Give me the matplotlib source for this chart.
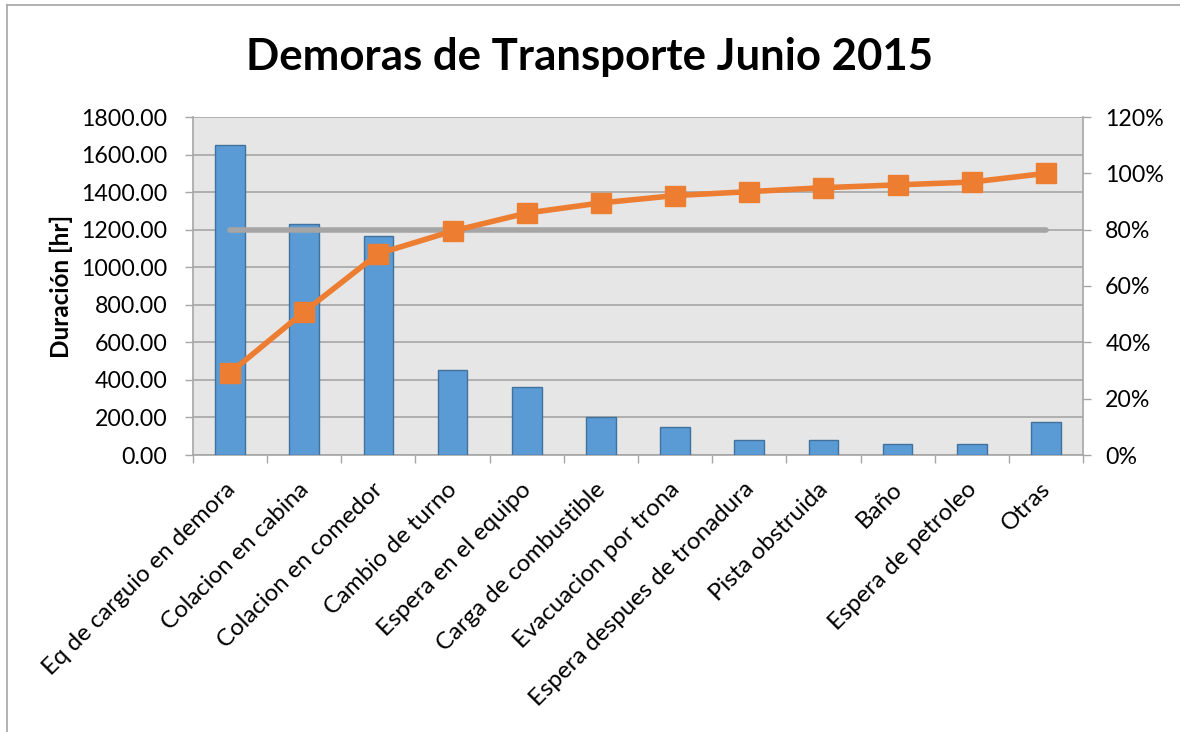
import matplotlib
matplotlib.use("Agg")
import matplotlib.pyplot as plt
from matplotlib.lines import Line2D
from matplotlib.transforms import ScaledTranslation
import numpy as np

categories = ["Eq de carguio en demora", "Colacion en cabina", "Colacion en comedor",
              "Cambio de turno", "Espera en el equipo", "Carga de combustible",
              "Evacuacion por trona", "Espera despues de tronadura", "Pista obstruida",
              "Baño", "Espera de petroleo", "Otras"]
duracion = [1650, 1228, 1165, 455, 360, 205, 148, 80, 78, 57, 57, 175]
acumulado = [29.2, 50.9, 71.5, 79.5, 85.9, 89.5, 92.1, 93.5, 94.9, 95.9, 96.9, 100.0]
meta = [80] * len(categories)
left_ticks = [0, 200, 400, 600, 800, 1000, 1200, 1400, 1600, 1800]
right_ticks = [0, 20, 40, 60, 80, 100, 120]

FONT = "Lato"
plt.rcParams['font.family'] = [FONT, 'DejaVu Sans']

fig = plt.figure(figsize=(11.8, 7.32), dpi=100)
W, H = 1180, 732
ax = fig.add_axes([193 / W, 1 - 455 / H, (1083 - 193) / W, (455 - 117) / H])
ax.set_facecolor("#E6E6E6")

x = np.arange(len(categories))
ax.bar(x, duracion, width=0.40, color="#5B9BD5", edgecolor="#41719C", linewidth=1, zorder=3)
ax.set_xlim(-0.5, len(categories) - 0.5)
ax.set_ylim(0, 1800)
ax.set_yticks(left_ticks)
ax.set_yticklabels([f"{v:.2f}" for v in left_ticks])
ax.grid(axis="y", color="#A6A6A6", linewidth=1.2, zorder=0)
ax.set_axisbelow(True)

ax.set_xticks(x)
ax.set_xticklabels(categories, rotation=45, ha="right", va="top", rotation_mode="anchor")
ax.set_xticks(np.arange(-0.5, len(categories)), minor=True)
ax.tick_params(axis="x", which="major", length=0, labelsize=17.3, pad=17)
ax.tick_params(axis="x", which="minor", length=6, color="#A6A6A6", width=1)
ax.tick_params(axis="y", length=6, color="#A6A6A6", width=1, labelsize=16.7, pad=12.5)
offset = ScaledTranslation(-6 / 100, 0, fig.dpi_scale_trans)
for lab in ax.get_xticklabels():
    lab.set_transform(lab.get_transform() + offset)
for s in ax.spines.values():
    s.set_color("#A6A6A6")
    s.set_linewidth(1.2)
ax.spines["top"].set_visible(False)
ax.spines["right"].set_visible(False)
ax.set_ylabel("Duración [hr]", fontsize=17.5, fontweight="bold", labelpad=6)

ax2 = ax.twinx()
ax2.set_ylim(0, 120)
ax2.set_yticks(right_ticks)
ax2.set_yticklabels([f"{v}%" for v in right_ticks])
ax2.tick_params(axis="y", length=6, color="#A6A6A6", width=1, labelsize=16.7, pad=10)
for s in ax2.spines.values():
    s.set_visible(False)
ax2.spines["right"].set_visible(True)
ax2.spines["right"].set_color("#A6A6A6")
ax2.spines["right"].set_linewidth(1.2)

ax2.plot(x, meta, color="#A5A5A5", linewidth=4, solid_capstyle="round", zorder=4)
ax2.plot(x, acumulado, color="#ED7D31", linewidth=4, marker="s", markersize=14,
         markeredgecolor="#ED7D31", zorder=5)

fig.text(0.5, 1 - 57 / H, "Demoras de Transporte Junio 2015", ha="center", va="center",
         fontsize=31.5, fontweight="bold")

fig.add_artist(Line2D([7 / W, 7 / W], [0, 1 - 5 / H], transform=fig.transFigure,
                      color="#A6A6A6", linewidth=1.2))
fig.add_artist(Line2D([7 / W, 1], [1 - 5 / H, 1 - 5 / H], transform=fig.transFigure,
                      color="#A6A6A6", linewidth=1.2))

fig.savefig("out.png", dpi=100)
